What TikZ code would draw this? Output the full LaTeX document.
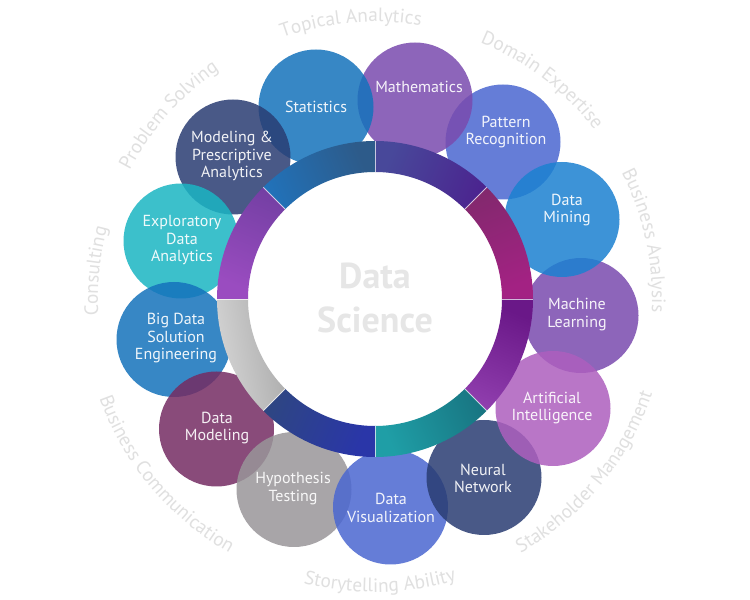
\documentclass[tikz,border=0pt]{standalone}
\usepackage{fontspec}
\setmainfont{PT Sans}
\usetikzlibrary{decorations.text}
\definecolor{cStat}{HTML}{1572BC}
\definecolor{cMath}{HTML}{7A4BAE}
\definecolor{cPatt}{HTML}{4B67D1}
\definecolor{cMine}{HTML}{1C81D1}
\definecolor{cAI}{HTML}{AD5FBE}
\definecolor{cSlate}{HTML}{2A3D73}
\definecolor{cHyp}{HTML}{999699}
\definecolor{cDMod}{HTML}{752C63}
\definecolor{cEDA}{HTML}{1AB5C3}
\definecolor{outergray}{HTML}{E0E0E0}
\definecolor{dsgray}{HTML}{E6E6E6}
\newcommand\outerfmt{\fontsize{19.3}{19.3}\selectfont\color{outergray}}
\begin{document}
\begin{tikzpicture}[x=1pt,y=1pt,
  bubble/.style={circle, minimum size=115pt, inner sep=0pt, draw=none, fill opacity=0.85},
  lbl/.style={align=center, font=\fontsize{16}{17.5}\selectfont, text=white, text opacity=0.92, inner sep=0pt},
  divider/.style={white, line width=0.8pt, opacity=0.7},
  seg/.style={draw=none}]
\fill[white] (0,0) rectangle (750,600);
\useasboundingbox (0,0) rectangle (750,600);
\coordinate (c) at (375,301);

% bubbles (drawing order matters for overlaps)
\node[bubble, fill=cMath] (b-ml) at (581,284.5) {};
\node[bubble, fill=cPatt] (b-pat) at (503,458) {};
\node[bubble, fill=cMine] (b-min) at (562,380.5) {};
\node[bubble, fill=cMath] (b-math) at (415,500) {};
\node[bubble, fill=cStat] (b-stat) at (316,493) {};
\node[bubble, fill=cSlate] (b-mpa) at (233,443) {};
\node[bubble, fill=cEDA] (b-eda) at (181,359) {};
\node[bubble, fill=cStat] (b-bd) at (174,260.5) {};
\node[bubble, fill=cDMod] (b-dmod) at (216.5,171) {};
\node[bubble, fill=cHyp] (b-hyp) at (294,110.5) {};
\node[bubble, fill=cPatt] (b-dv) at (390.5,93) {};
\node[bubble, fill=cSlate] (b-nn) at (484,122.5) {};
\node[bubble, fill=cAI] (b-ai) at (553,191.5) {};

% ring segments
\shade[seg, top color={rgb,255:red,30;green,120;blue,198}, bottom color={rgb,255:red,45;green,91;blue,138}, shading angle=112.5]
  (c) ++(90:158) arc[start angle=90, end angle=135, radius=158] -- ++(135:-31) arc[start angle=135, end angle=90, radius=127] -- cycle;
\shade[seg, top color={rgb,255:red,72;green,72;blue,154}, bottom color={rgb,255:red,76;green,26;blue,140}, shading angle=67.5]
  (c) ++(45:158) arc[start angle=45, end angle=90, radius=158] -- ++(90:-31) arc[start angle=90, end angle=45, radius=127] -- cycle;
\shade[seg, top color={rgb,255:red,122;green,42;blue,104}, bottom color={rgb,255:red,163;green,34;blue,131}, shading angle=22.5]
  (c) ++(0:158) arc[start angle=0, end angle=45, radius=158] -- ++(45:-31) arc[start angle=45, end angle=0, radius=127] -- cycle;
\shade[seg, top color={rgb,255:red,106;green,24;blue,136}, bottom color={rgb,255:red,154;green,72;blue,184}, shading angle=-22.5]
  (c) ++(-45:158) arc[start angle=-45, end angle=0, radius=158] -- ++(0:-31) arc[start angle=0, end angle=-45, radius=127] -- cycle;
\shade[seg, top color={rgb,255:red,22;green,106;blue,120}, bottom color={rgb,255:red,31;green,158;blue,166}, shading angle=-67.5]
  (c) ++(-90:158) arc[start angle=-90, end angle=-45, radius=158] -- ++(-45:-31) arc[start angle=-45, end angle=-90, radius=127] -- cycle;
\shade[seg, top color={rgb,255:red,42;green,54;blue,168}, bottom color={rgb,255:red,47;green,74;blue,120}, shading angle=-112.5]
  (c) ++(-135:158) arc[start angle=-135, end angle=-90, radius=158] -- ++(-90:-31) arc[start angle=-90, end angle=-135, radius=127] -- cycle;
\shade[seg, top color={rgb,255:red,210;green,210;blue,210}, bottom color={rgb,255:red,122;green,122;blue,122}, shading angle=100]
  (c) ++(180:158) arc[start angle=180, end angle=225, radius=158] -- ++(225:-31) arc[start angle=225, end angle=180, radius=127] -- cycle;
\shade[seg, top color={rgb,255:red,154;green,76;blue,192}, bottom color={rgb,255:red,106;green,60;blue,156}, shading angle=157.5]
  (c) ++(135:158) arc[start angle=135, end angle=180, radius=158] -- ++(180:-31) arc[start angle=180, end angle=135, radius=127] -- cycle;
\foreach \a in {0,45,...,315} \draw[divider] (c) ++(\a:127) -- ++(\a:31);

% centre title
\node[font=\bfseries\fontsize{36}{44}\selectfont, text=dsgray, align=center, inner sep=0pt] (ds) at (375,302.5) {Data\\Science};

% bubble labels
\node[lbl] (l-stat) at (316,493) {Statistics};
\node[lbl] (l-math) at (419,513) {Mathematics};
\node[lbl] (l-pat) at (506,468) {Pattern\\Recognition};
\node[lbl] (l-min) at (567,390) {Data\\Mining};
\node[lbl] (l-ml) at (577,285.5) {Machine\\Learning};
\node[lbl] (l-ai) at (552,192) {Artificial\\Intelligence};
\node[lbl] (l-nn) at (483,121.5) {Neural\\Network};
\node[lbl] (l-dv) at (391,92) {Data\\Visualization};
\node[lbl] (l-hyp) at (293,111.5) {Hypothesis\\Testing};
\node[lbl] (l-dmod) at (217,172) {Data\\Modeling};
\node[lbl] (l-bd) at (176,261.5) {Big Data\\Solution\\Engineering};
\node[lbl] (l-eda) at (182,359.5) {Exploratory\\Data\\Analytics};
\node[lbl] (l-mpa) at (232,444) {Modeling \&\\Prescriptive\\Analytics};

% outer curved labels
\path[decorate, decoration={text along path, text align=center, text={|\outerfmt|Topical Analytics}}]
  (c) ++(165:277) arc[start angle=165, end angle=25, radius=277];
\path[decorate, decoration={text along path, text align=center, text={|\outerfmt|Domain Expertise}}]
  (c) ++(122.6:277) arc[start angle=122.6, end angle=-17.4, radius=277];
\path[decorate, decoration={text along path, text align=center, text={|\outerfmt|Business Analysis}}]
  (c) ++(82.2:277) arc[start angle=82.2, end angle=-57.8, radius=277];
\path[decorate, decoration={text along path, text align=center, text={|\outerfmt|Problem Solving}}]
  (c) ++(208.3:277) arc[start angle=208.3, end angle=68.3, radius=277];
\path[decorate, decoration={text along path, text align=center, text={|\outerfmt|Consulting}}]
  (c) ++(244.3:277) arc[start angle=244.3, end angle=104.3, radius=277];
\path[decorate, decoration={text along path, text align=center, text={|\outerfmt|Stakeholder Management}}]
  (c) ++(-109.5:293) arc[start angle=-109.5, end angle=30.5, radius=293];
\path[decorate, decoration={text along path, text align=center, text={|\outerfmt|Storytelling Ability}}]
  (c) ++(-159:293) arc[start angle=-159, end angle=-19, radius=293];
\path[decorate, decoration={text along path, text align=center, text={|\outerfmt|Business Communication}}]
  (c) ++(150:293) arc[start angle=150, end angle=290, radius=293];
\end{tikzpicture}
\end{document}
